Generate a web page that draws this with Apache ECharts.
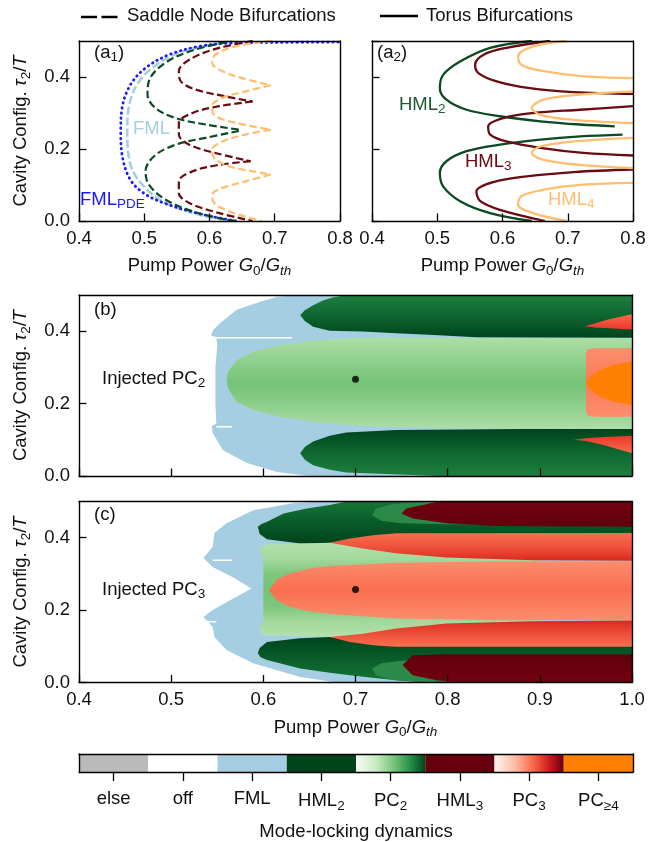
<!DOCTYPE html>
<html><head><meta charset="utf-8">
<script src="https://cdn.jsdelivr.net/npm/echarts/dist/echarts.min.js"></script>
<style>html,body{margin:0;padding:0;background:#fff}#c{width:658px;height:842px}</style>
</head><body><div id="c"></div>
<script>
// ================= DATA =================
// x ticks (pump power) and y ticks (cavity config)
const xTicksA = [0.4, 0.5, 0.6, 0.7, 0.8];
const xTicksBC = [0.4, 0.5, 0.6, 0.7, 0.8, 0.9, 1.0];
const yTicks = [0.0, 0.2, 0.4];

// (a1) saddle-node bifurcation curves  [G0/Gth, tau2/T]
const a1FML = [[0.64,0.0],[0.594,0.013],[0.533,0.05],[0.497,0.101],[0.479,0.156],[0.474,0.249],[0.477,0.323],[0.489,0.379],[0.512,0.425],[0.553,0.467],[0.615,0.494],[0.64,0.5]];
const a1FMLpde = [[0.64,0.0],[0.585,0.02],[0.53,0.05],[0.497,0.08],[0.477,0.12],[0.466,0.184],[0.464,0.249],[0.466,0.314],[0.479,0.379],[0.502,0.425],[0.538,0.462],[0.584,0.485],[0.63,0.494],[0.7,0.496],[0.8,0.497]];
const a1HML2u = [[0.625,0.497],[0.569,0.471],[0.528,0.434],[0.507,0.388],[0.505,0.351],[0.517,0.314],[0.548,0.286],[0.594,0.268],[0.645,0.254]];
const a1HML2l = [[0.645,0.25],[0.594,0.231],[0.548,0.212],[0.515,0.18],[0.502,0.138],[0.507,0.101],[0.533,0.059],[0.574,0.027],[0.625,0.004],[0.64,0.0]];
const a1HML3a = [[0.666,0.5],[0.615,0.481],[0.574,0.453],[0.553,0.416],[0.556,0.388],[0.579,0.365],[0.625,0.346],[0.666,0.332]];
const a1HML3b = [[0.666,0.332],[0.615,0.319],[0.574,0.3],[0.553,0.272],[0.553,0.24],[0.569,0.212],[0.609,0.189],[0.663,0.166]];
const a1HML3c = [[0.663,0.166],[0.615,0.156],[0.574,0.138],[0.553,0.11],[0.553,0.078],[0.569,0.05],[0.615,0.022],[0.666,0.0]];
const a1HML4a = [[0.696,0.5],[0.64,0.485],[0.609,0.462],[0.604,0.439],[0.62,0.416],[0.65,0.397],[0.694,0.377]];
const a1HML4b = [[0.694,0.377],[0.655,0.36],[0.62,0.342],[0.604,0.319],[0.607,0.295],[0.63,0.277],[0.666,0.263],[0.694,0.254]];
const a1HML4c = [[0.694,0.254],[0.655,0.24],[0.62,0.221],[0.604,0.198],[0.607,0.175],[0.63,0.152],[0.666,0.138],[0.694,0.129]];
const a1HML4d = [[0.694,0.129],[0.655,0.11],[0.62,0.092],[0.604,0.073],[0.607,0.05],[0.63,0.027],[0.671,0.004],[0.68,0.0]];

// (a2) torus bifurcation curves
const a2HML2u = [[0.645,0.5],[0.581,0.481],[0.535,0.443],[0.509,0.406],[0.504,0.369],[0.514,0.337],[0.545,0.309],[0.596,0.291],[0.658,0.277],[0.719,0.268],[0.772,0.263]];
const a2HML2l = [[0.784,0.24],[0.719,0.235],[0.658,0.226],[0.596,0.212],[0.545,0.194],[0.514,0.166],[0.504,0.133],[0.509,0.096],[0.535,0.055],[0.581,0.022],[0.645,0.0]];
const a2HML3a = [[0.673,0.5],[0.606,0.481],[0.571,0.462],[0.558,0.434],[0.563,0.411],[0.591,0.388],[0.642,0.369],[0.709,0.358],[0.8,0.353]];
const a2HML3b = [[0.8,0.319],[0.719,0.309],[0.647,0.3],[0.601,0.286],[0.578,0.263],[0.581,0.24],[0.606,0.221],[0.658,0.203],[0.724,0.189],[0.8,0.182]];
const a2HML3c = [[0.8,0.143],[0.709,0.136],[0.637,0.124],[0.586,0.108],[0.56,0.082],[0.566,0.055],[0.596,0.031],[0.665,0.0]];
const a2HML4a = [[0.698,0.5],[0.647,0.485],[0.624,0.457],[0.629,0.434],[0.663,0.416],[0.724,0.402],[0.8,0.397]];
const a2HML4b = [[0.8,0.36],[0.719,0.351],[0.663,0.337],[0.645,0.314],[0.658,0.295],[0.709,0.281],[0.8,0.272]];
const a2HML4c = [[0.8,0.231],[0.709,0.221],[0.658,0.207],[0.645,0.189],[0.663,0.17],[0.719,0.156],[0.8,0.147]];
const a2HML4d = [[0.8,0.106],[0.724,0.101],[0.663,0.087],[0.629,0.069],[0.624,0.045],[0.647,0.022],[0.698,0.0]];

// (b) injected PC2 : region boundaries
const bFML = [[0.64,0.5],[0.615,0.495],[0.595,0.48],[0.571,0.459],[0.553,0.422],[0.546,0.405],[0.543,0.389],[0.549,0.383],[0.55,0.36],[0.548,0.3],[0.548,0.2],[0.549,0.145],[0.544,0.138],[0.545,0.119],[0.556,0.072],[0.582,0.036],[0.615,0.011],[0.65,0.0],[1.0,0.0],[1.0,0.5]];
const bPC2 = [[1.0,0.381],[0.8,0.382],[0.726,0.383],[0.69,0.38],[0.654,0.374],[0.618,0.362],[0.589,0.343],[0.571,0.32],[0.562,0.29],[0.56,0.265],[0.562,0.24],[0.571,0.205],[0.589,0.182],[0.618,0.164],[0.654,0.15],[0.69,0.141],[0.726,0.136],[0.8,0.131],[1.0,0.13]];
const bHML2u = [[0.64,0.445],[0.645,0.458],[0.654,0.472],[0.664,0.484],[0.675,0.493],[0.69,0.5],[1.0,0.5],[1.0,0.382],[0.831,0.383],[0.78,0.39],[0.744,0.394],[0.708,0.399],[0.672,0.401],[0.654,0.412],[0.645,0.428]];
const bHML2l = [[0.64,0.063],[0.645,0.08],[0.654,0.095],[0.672,0.111],[0.69,0.12],[0.744,0.127],[0.878,0.13],[1.0,0.13],[1.0,0.0],[0.79,0.0],[0.74,0.005],[0.69,0.01],[0.672,0.017],[0.654,0.03],[0.645,0.045]];
const bPC3u = [[0.949,0.414],[0.96,0.422],[0.975,0.433],[1.0,0.447],[1.0,0.405],[0.975,0.408],[0.96,0.41]];
const bPC3l = [[0.937,0.1],[0.95,0.097],[0.97,0.085],[1.0,0.063],[1.0,0.111],[0.97,0.108],[0.95,0.104]];
const bPC3c = [[0.95,0.34],[0.952,0.35],[0.96,0.353],[1.0,0.353],[1.0,0.164],[0.96,0.164],[0.952,0.167],[0.95,0.178]];
const bPC4 = [[0.95,0.257],[0.955,0.275],[0.965,0.293],[0.98,0.307],[1.0,0.316],[1.0,0.196],[0.98,0.205],[0.965,0.219],[0.955,0.238]];
const bGaps = [[[0.542,0.382],[0.631,0.382]], [[0.549,0.136],[0.566,0.136]]];
const bPoint = [[0.7, 0.267]];

// (c) injected PC3 : region boundaries
const cFML = [[0.66,0.5],[0.632,0.495],[0.589,0.476],[0.56,0.44],[0.547,0.413],[0.545,0.375],[0.535,0.344],[0.545,0.319],[0.567,0.291],[0.587,0.26],[0.564,0.227],[0.545,0.2],[0.535,0.181],[0.545,0.153],[0.547,0.125],[0.56,0.09],[0.589,0.053],[0.64,0.015],[0.68,0.0],[1.0,0.0],[1.0,0.5]];
const cHML2u = [[0.594,0.43],[0.598,0.438],[0.604,0.444],[0.622,0.467],[0.647,0.481],[0.672,0.49],[0.69,0.5],[1.0,0.5],[1.0,0.405],[0.75,0.4],[0.672,0.384],[0.64,0.384],[0.604,0.396],[0.596,0.41]];
const cHML2uB = [[0.78,0.5],[0.74,0.493],[0.722,0.48],[0.718,0.462],[0.728,0.447],[0.75,0.44],[0.8,0.437],[1.0,0.437],[1.0,0.5]];
const cHML2l = [[0.594,0.081],[0.596,0.095],[0.604,0.112],[0.64,0.122],[0.672,0.126],[0.744,0.105],[1.0,0.105],[1.0,0.0],[0.777,0.0],[0.744,0.006],[0.708,0.016],[0.672,0.027],[0.64,0.039],[0.604,0.062],[0.597,0.07]];
const cHML2lB = [[0.78,0.0],[0.74,0.007],[0.722,0.02],[0.718,0.038],[0.728,0.053],[0.75,0.06],[0.8,0.063],[1.0,0.063],[1.0,0.0]];
const cPC2 = [[0.605,0.381],[0.672,0.386],[0.8,0.36],[0.9,0.338],[0.9,0.172],[0.8,0.15],[0.672,0.126],[0.605,0.13],[0.598,0.135],[0.596,0.15],[0.6,0.165],[0.6,0.345],[0.596,0.36],[0.598,0.375]];
const cPC3c = [[0.606,0.255],[0.614,0.283],[0.628,0.301],[0.65,0.315],[0.672,0.322],[0.744,0.331],[0.853,0.334],[1.0,0.335],[1.0,0.172],[0.853,0.172],[0.744,0.177],[0.672,0.189],[0.65,0.196],[0.628,0.209],[0.614,0.228]];
const cPC3u = [[0.672,0.386],[0.694,0.398],[0.719,0.407],[0.744,0.412],[1.0,0.413],[1.0,0.336],[0.893,0.338],[0.799,0.345],[0.744,0.357],[0.708,0.37]];
const cPC3l = [[0.672,0.126],[0.694,0.112],[0.719,0.103],[0.744,0.099],[1.0,0.099],[1.0,0.171],[0.893,0.169],[0.799,0.163],[0.744,0.149],[0.708,0.135]];
const cHML3u = [[0.75,0.467],[0.755,0.481],[0.773,0.49],[0.79,0.5],[1.0,0.5],[1.0,0.43],[0.853,0.432],[0.799,0.44],[0.762,0.453]];
const cHML3l = [[0.751,0.048],[0.762,0.075],[0.799,0.078],[1.0,0.078],[1.0,0.0],[0.81,0.0],[0.788,0.006],[0.762,0.02]];
const cGaps = [[[0.545,0.338],[0.566,0.338]], [[0.538,0.168],[0.549,0.168]]];
const cPoint = [[0.7, 0.257]];

// colorbar categories
const cbCats = ['else', 'off', 'FML', 'HML_2', 'PC_2', 'HML_3', 'PC_3', 'PC_≥4'];
const cbVals = [1, 1, 1, 1, 1, 1, 1, 1];

// ================= STYLE =================
const FONT = "'Liberation Sans', Arial, Helvetica, sans-serif";
const FS = 18.5, FSS = 13.5;
const TXT = '#111';
const C_FML = '#a6cee3', C_G = '#0b4a22', C_R = '#6a0a12', C_O = '#fdbf6f';

const richAxis = {
  n: {fontSize: FS, fontFamily: FONT, color: TXT},
  i: {fontSize: FS, fontFamily: FONT, color: TXT, fontStyle: 'italic'},
  s: {fontSize: FSS, fontFamily: FONT, color: TXT, padding: [10, 0, 0, 0]},
  si: {fontSize: FSS, fontFamily: FONT, color: TXT, fontStyle: 'italic', padding: [10, 0, 0, 0]}
};
const xName = '{n|Pump Power }{i|G}{s|0}{n|/}{i|G}{si|th}';
const yName = '{n|Cavity Config. }{i|τ}{s|2}{n|/}{i|T}';

const LINE = {show: true, onZero: false, lineStyle: {color: '#000', width: 1.4}};

const xAxes = [], yAxes = [], grids = [];
function addPanel(g, xmax, xTicks, showX, showXName, showY) {
  grids.push(Object.assign({containLabel: false, outerBoundsMode: 'none'}, g));
  const gi = grids.length - 1;
  xAxes.push({gridIndex: gi, type: 'value', min: xTicks[0], max: xmax, interval: 0.1, position: 'bottom', z: 10,
    axisLine: LINE, splitLine: {show: false},
    axisTick: {show: true, inside: true, length: 7.5, lineStyle: {color: '#000', width: 1.3}},
    axisLabel: {show: showX, margin: 8, fontSize: FS, fontFamily: FONT, color: TXT, showMinLabel: true, showMaxLabel: true,
      formatter: v => (+v).toFixed(1)},
    name: showXName ? xName : '', nameLocation: 'middle', nameGap: 33, nameTextStyle: {rich: richAxis}});
  xAxes.push({gridIndex: gi, type: 'value', min: xTicks[0], max: xmax, position: 'top', z: 10,
    axisLine: LINE, axisTick: {show: false}, axisLabel: {show: false}, splitLine: {show: false}});
  yAxes.push({gridIndex: gi, type: 'value', min: 0, max: 0.5, interval: 0.2, position: 'left', z: 10,
    axisLine: LINE, splitLine: {show: false},
    axisTick: {show: true, inside: true, length: 7.5, lineStyle: {color: '#000', width: 1.3}},
    axisLabel: {show: showY, margin: 9, fontSize: FS, fontFamily: FONT, color: TXT, showMaxLabel: false,
      formatter: v => (v > 0.45 ? '' : (+v).toFixed(1))},
    name: showY ? yName : '', nameLocation: 'middle', nameGap: 46, nameRotate: 90, nameTextStyle: {rich: richAxis}});
  yAxes.push({gridIndex: gi, type: 'value', min: 0, max: 0.5, position: 'right', z: 10,
    axisLine: LINE, axisTick: {show: false}, axisLabel: {show: false}, splitLine: {show: false}});
  return gi;
}
const gA1 = addPanel({left: 79, top: 41, width: 261, height: 180}, 0.8, xTicksA, true, true, true);
const gA2 = addPanel({left: 372, top: 41, width: 261, height: 180}, 0.8, xTicksA, true, true, false);
const gB = addPanel({left: 79, top: 295, width: 553, height: 181}, 1.0, xTicksBC, false, false, true);
const gC = addPanel({left: 79, top: 501.5, width: 553, height: 181}, 1.0, xTicksBC, true, true, true);

// colorbar grid
grids.push({left: 79, top: 754, width: 554, height: 18, containLabel: false, outerBoundsMode: 'none'});
const gCB = grids.length - 1;
const cbFmt = s => { const p = s.split('_'); return p.length > 1 ? '{n|' + p[0] + '}{s|' + p[1] + '}' : '{n|' + s + '}'; };
xAxes.push({gridIndex: gCB, type: 'category', data: cbCats, position: 'bottom', z: 10,
  axisLine: LINE, axisTick: {show: true, inside: false, alignWithLabel: true, length: 9, lineStyle: {color: '#000', width: 1.3}},
  axisLabel: {margin: 17, formatter: cbFmt, rich: richAxis, interval: 0},
  name: 'Mode-locking dynamics', nameLocation: 'middle', nameGap: 50,
  nameTextStyle: {fontSize: FS, fontFamily: FONT, color: TXT}});
xAxes.push({gridIndex: gCB, type: 'category', data: cbCats, position: 'top', z: 10,
  axisLine: LINE, axisTick: {show: false}, axisLabel: {show: false}});
yAxes.push({gridIndex: gCB, type: 'value', min: 0, max: 1, position: 'left', z: 10, axisLine: LINE,
  axisTick: {show: false}, axisLabel: {show: false}, splitLine: {show: false}});
yAxes.push({gridIndex: gCB, type: 'value', min: 0, max: 1, position: 'right', z: 10, axisLine: LINE,
  axisTick: {show: false}, axisLabel: {show: false}, splitLine: {show: false}});

// ================= SERIES =================
const series = [];
function addCurves(gi, list) {
  list.forEach(c => series.push({type: 'line', xAxisIndex: 2 * gi, yAxisIndex: 2 * gi, data: c[0], smooth: 0.35,
    symbol: 'none', silent: true, clip: true, z: 3, animation: false,
    lineStyle: {color: c[1], width: c[2], type: c[3], cap: c[4] || 'butt'}}));
}
const DASH = [7.5, 3.5];
addCurves(gA1, [
  [a1FML, C_FML, 2.6, [8, 3]],
  [a1FMLpde, '#1a1aff', 2.8, [0.5, 4.6], 'round'],
  [a1HML2u, C_G, 2.2, DASH], [a1HML2l, C_G, 2.2, DASH],
  [a1HML3a, C_R, 2.2, DASH], [a1HML3b, C_R, 2.2, DASH], [a1HML3c, C_R, 2.2, DASH],
  [a1HML4a, C_O, 2.2, DASH], [a1HML4b, C_O, 2.2, DASH], [a1HML4c, C_O, 2.2, DASH], [a1HML4d, C_O, 2.2, DASH]
]);
addCurves(gA2, [
  [a2HML2u, C_G, 2.3, 'solid'], [a2HML2l, C_G, 2.3, 'solid'],
  [a2HML3a, C_R, 2.3, 'solid'], [a2HML3b, C_R, 2.3, 'solid'], [a2HML3c, C_R, 2.3, 'solid'],
  [a2HML4a, C_O, 2.3, 'solid'], [a2HML4b, C_O, 2.3, 'solid'], [a2HML4c, C_O, 2.3, 'solid'], [a2HML4d, C_O, 2.3, 'solid']
]);

function addRegions(gi, regions) {
  series.push({type: 'custom', xAxisIndex: 2 * gi, yAxisIndex: 2 * gi, silent: true, z: 2, animation: false, clip: true,
    data: regions.map(r => r.pts[0]),
    renderItem: (params, api) => {
      const r = regions[params.dataIndex];
      const pts = r.pts.map(p => api.coord(p));
      let fill = r.color;
      if (r.stops) {
        const p0 = api.coord([0.7, r.stops[0][0]])[1];
        const p1 = api.coord([0.7, r.stops[r.stops.length - 1][0]])[1];
        const cs = r.stops.map(s => ({offset: (api.coord([0.7, s[0]])[1] - p0) / (p1 - p0), color: s[1]}));
        fill = new echarts.graphic.LinearGradient(0, p0, 0, p1, cs, true);
      }
      return {type: 'polygon', shape: {points: pts}, style: {fill: fill, stroke: null}};
    }});
}
addRegions(gB, [
  {pts: bFML, color: C_FML},
  {pts: bPC2, stops: [[0.381, '#addea6'], [0.3, '#86cc85'], [0.255, '#74c476'], [0.21, '#86cc85'], [0.13, '#addea6']]},
  {pts: bHML2u, stops: [[0.5, '#1f7f3f'], [0.45, '#0f6a32'], [0.382, '#00441b']]},
  {pts: bHML2l, stops: [[0.13, '#00441b'], [0.06, '#0f6a32'], [0.0, '#1f7f3f']]},
  {pts: bPC3u, stops: [[0.447, '#fb6a4a'], [0.405, '#e8392c']]},
  {pts: bPC3l, stops: [[0.111, '#e8392c'], [0.063, '#fb6a4a']]},
  {pts: bPC3c, stops: [[0.353, '#fc8d6d'], [0.26, '#fb7a5a'], [0.164, '#fc8d6d']]},
  {pts: bPC4, color: '#ff7f00'}
]);
addRegions(gC, [
  {pts: cFML, color: C_FML},
  {pts: cHML2u, stops: [[0.5, '#167535'], [0.45, '#0a5f2c'], [0.384, '#00441b']]},
  {pts: cHML2uB, color: '#2b8a4a'},
  {pts: cHML2l, stops: [[0.126, '#00441b'], [0.06, '#0a5f2c'], [0.0, '#167535']]},
  {pts: cHML2lB, color: '#2b8a4a'},
  {pts: cPC2, stops: [[0.386, '#b4e1ad'], [0.34, '#a2d89b'], [0.3, '#7dc77c'], [0.255, '#74c476'], [0.21, '#7dc77c'], [0.17, '#a2d89b'], [0.126, '#b4e1ad']]},
  {pts: cPC3c, stops: [[0.335, '#fc8c6c'], [0.255, '#f96e4f'], [0.172, '#fc8c6c']]},
  {pts: cPC3u, stops: [[0.413, '#f6704f'], [0.37, '#ee4e38'], [0.336, '#d9281f']]},
  {pts: cPC3l, stops: [[0.171, '#d9281f'], [0.135, '#ee4e38'], [0.099, '#f6704f']]},
  {pts: cHML3u, stops: [[0.5, '#72030f'], [0.43, '#5e000b']]},
  {pts: cHML3l, stops: [[0.078, '#5e000b'], [0.0, '#72030f']]}
]);
function addGaps(gi, gaps) {
  gaps.forEach(g => series.push({type: 'line', xAxisIndex: 2 * gi, yAxisIndex: 2 * gi, data: g, symbol: 'none',
    silent: true, z: 3, animation: false, lineStyle: {color: '#ffffff', width: 1.5}}));
}
addGaps(gB, bGaps);
addGaps(gC, cGaps);
[[gB, bPoint], [gC, cPoint]].forEach(([gi, d]) => series.push({type: 'scatter', xAxisIndex: 2 * gi, yAxisIndex: 2 * gi,
  data: d, symbolSize: 7, itemStyle: {color: '#000'}, silent: true, z: 5, animation: false}));

// colorbar
const cbColors = [
  '#bababa', '#ffffff', C_FML, '#00441b',
  new echarts.graphic.LinearGradient(0, 0, 1, 0, [{offset: 0, color: '#f7fcf5'}, {offset: 0.3, color: '#c7e9c0'}, {offset: 0.55, color: '#74c476'}, {offset: 0.8, color: '#238b45'}, {offset: 1, color: '#00441b'}]),
  '#67000d',
  new echarts.graphic.LinearGradient(0, 0, 1, 0, [{offset: 0, color: '#fff5f0'}, {offset: 0.3, color: '#fcbba1'}, {offset: 0.55, color: '#fb6a4a'}, {offset: 0.8, color: '#cb181d'}, {offset: 1, color: '#67000d'}]),
  '#ff7f00'
];
series.push({type: 'bar', xAxisIndex: 2 * gCB, yAxisIndex: 2 * gCB, barWidth: '100%', barCategoryGap: '0%', silent: true, animation: false,
  data: cbVals.map((v, i) => ({value: v, itemStyle: {color: cbColors[i]}}))});

// ================= TEXT =================
const rT = (col) => ({n: {fontSize: FS, fontFamily: FONT, fill: col}, s: {fontSize: FSS, fontFamily: FONT, fill: col, padding: [10, 0, 0, 0]}});
const T = (left, top, text, col) => ({type: 'text', left: left, top: top, z: 100, style: {text: text, rich: rT(col), font: FS + 'px ' + FONT, fill: col}});
const graphic = [
  {type: 'line', z: 100, shape: {x1: 81, y1: 17, x2: 118, y2: 17}, style: {stroke: '#000', lineWidth: 2.6, lineDash: [16, 4.5]}},
  T(127, 6, '{n|Saddle Node Bifurcations}', '#111'),
  {type: 'line', z: 100, shape: {x1: 380, y1: 16, x2: 418, y2: 16}, style: {stroke: '#000', lineWidth: 2.6}},
  T(426, 6, '{n|Torus Bifurcations}', '#111'),
  T(94, 43, '{n|(a}{s|1}{n|)}', '#111'),
  T(377, 43, '{n|(a}{s|2}{n|)}', '#111'),
  T(133, 119, '{n|FML}', C_FML),
  T(80, 190, '{n|FML}{s|PDE}', '#1a1aff'),
  T(399, 95, '{n|HML}{s|2}', '#1b5a30'),
  T(465, 152, '{n|HML}{s|3}', C_R),
  T(548, 190, '{n|HML}{s|4}', C_O),
  T(94, 300, '{n|(b)}', '#111'),
  T(102, 369, '{n|Injected PC}{s|2}', '#111'),
  T(94, 505, '{n|(c)}', '#111'),
  T(102, 580, '{n|Injected PC}{s|3}', '#111')
];

const chart = echarts.init(document.getElementById('c'), null, {renderer: 'canvas'});
chart.setOption({
  animation: false,
  textStyle: {fontFamily: FONT},
  grid: grids, xAxis: xAxes, yAxis: yAxes, series: series, graphic: graphic
});
</script></body></html>
